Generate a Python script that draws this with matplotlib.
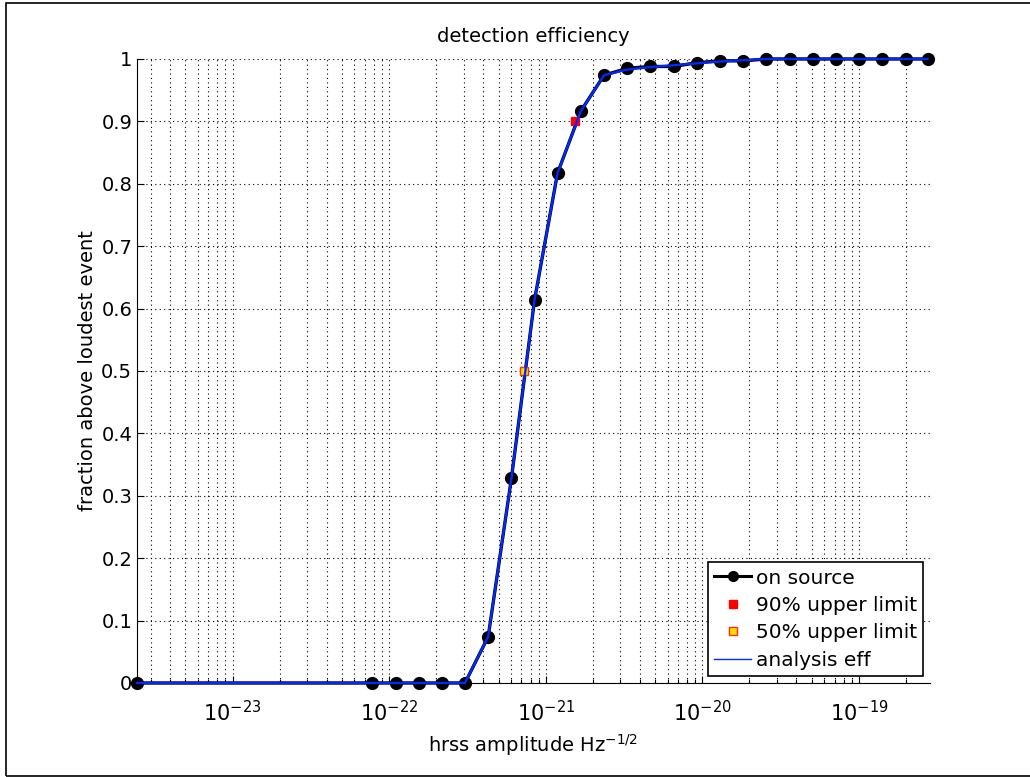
import matplotlib
matplotlib.use("Agg")
import matplotlib.pyplot as plt
from matplotlib.lines import Line2D
from matplotlib.patches import Rectangle
from matplotlib.ticker import LogLocator, NullFormatter, MultipleLocator, FormatStrFormatter, LogFormatterSciNotation

# Data
hrss = [2.45e-24, 7.80e-23, 1.10e-22, 1.54e-22, 2.17e-22, 3.05e-22, 4.29e-22,
        6.04e-22, 8.49e-22, 1.19e-21, 1.68e-21, 2.36e-21, 3.32e-21, 4.67e-21,
        6.56e-21, 9.23e-21, 1.30e-20, 1.83e-20, 2.57e-20, 3.61e-20, 5.08e-20,
        7.14e-20, 1.00e-19, 1.41e-19, 1.99e-19, 2.75e-19]
on_source = [0, 0, 0, 0, 0, 0, 0.074, 0.328, 0.614, 0.817, 0.917, 0.974, 0.985,
             0.988, 0.988, 0.994, 0.997, 0.997, 1, 1, 1, 1, 1, 1, 1, 1]
analysis_eff = [0, 0, 0, 0, 0, 0, 0.074, 0.328, 0.614, 0.817, 0.917, 0.974, 0.983,
                0.987, 0.990, 0.993, 0.996, 0.998, 1, 1, 1, 1, 1, 1, 1, 1]
ul90 = (1.53e-21, 0.9)
ul50 = (7.24e-22, 0.5)
xticks = [1e-23, 1e-22, 1e-21, 1e-20, 1e-19]
xlim = (2.45e-24, 2.85e-19)

fs = 14
plt.rcParams["font.family"] = ["DejaVu Sans"]

fig = plt.figure(figsize=(10.30, 7.77), dpi=100)
ax = fig.add_axes([0.1330, 0.1210, 0.7699, 0.8031])

ax.plot(hrss, on_source, "-o", color="black", lw=2.4, ms=8.5, zorder=3, clip_on=False)
ax.plot([ul90[0]], [ul90[1]], "s", color="red", mec="red", ms=5.5, zorder=4)
ax.plot([ul50[0]], [ul50[1]], "s", color="#ffe000", mec="#ff3000", mew=1, ms=5.5, zorder=4)
ax.plot(hrss, analysis_eff, "-", color="#0028ff", lw=1.7, zorder=5, clip_on=False)

ax.set_xscale("log")
ax.set_xlim(*xlim)
ax.set_ylim(0, 1)
ax.yaxis.set_major_locator(MultipleLocator(0.1))
ax.yaxis.set_major_formatter(FormatStrFormatter("%g"))
ax.set_xticks(xticks)
ax.xaxis.set_major_formatter(LogFormatterSciNotation())
ax.xaxis.set_minor_locator(LogLocator(base=10, subs=range(2, 10), numticks=20))
ax.xaxis.set_minor_formatter(NullFormatter())

ax.spines["top"].set_visible(False)
ax.spines["right"].set_visible(False)
ax.tick_params(which="both", direction="in", labelsize=fs, top=False, right=False)
ax.tick_params(which="major", length=5, width=0.8)
ax.tick_params(which="minor", length=3, width=0.8)
ax.tick_params(axis="y", pad=3.5)
ax.tick_params(axis="x", which="major", labelsize=15, pad=12)

grid_style = dict(color="black", linestyle=(0, (1, 3)), linewidth=0.8)
ax.grid(True, which="major", axis="both", **grid_style)
ax.grid(True, which="minor", axis="x", **grid_style)
ax.set_axisbelow(True)

ax.set_title("detection efficiency", fontsize=fs, pad=12)
ax.set_xlabel("hrss amplitude Hz$^{-1/2}$", fontsize=fs, labelpad=5)
ax.set_ylabel("fraction above loudest event", fontsize=fs, labelpad=3)

handles = [
    Line2D([], [], color="black", lw=2.2, marker="o", ms=7),
    Line2D([], [], color="red", ls="", marker="s", ms=6),
    Line2D([], [], color="#ffe000", mec="#ff3000", ls="", marker="s", ms=6),
    Line2D([], [], color="#0028ff", lw=1),
]
labels = ["on source", "90% upper limit", "50% upper limit", "analysis eff"]
leg = ax.legend(handles, labels, loc="lower right", fontsize=14.5, fancybox=False,
                edgecolor="black", framealpha=1, borderaxespad=0.35,
                handlelength=1.8, handletextpad=0.25, labelspacing=0.42,
                borderpad=0.3)
leg.get_frame().set_linewidth(1.2)

# figure border
fig.patches.append(Rectangle((6 / 1030, 1 / 777), 1.1, 1 - 3.5 / 777,
                             transform=fig.transFigure, fill=False,
                             edgecolor="black", lw=1.2))

fig.savefig("out.png", dpi=100)
